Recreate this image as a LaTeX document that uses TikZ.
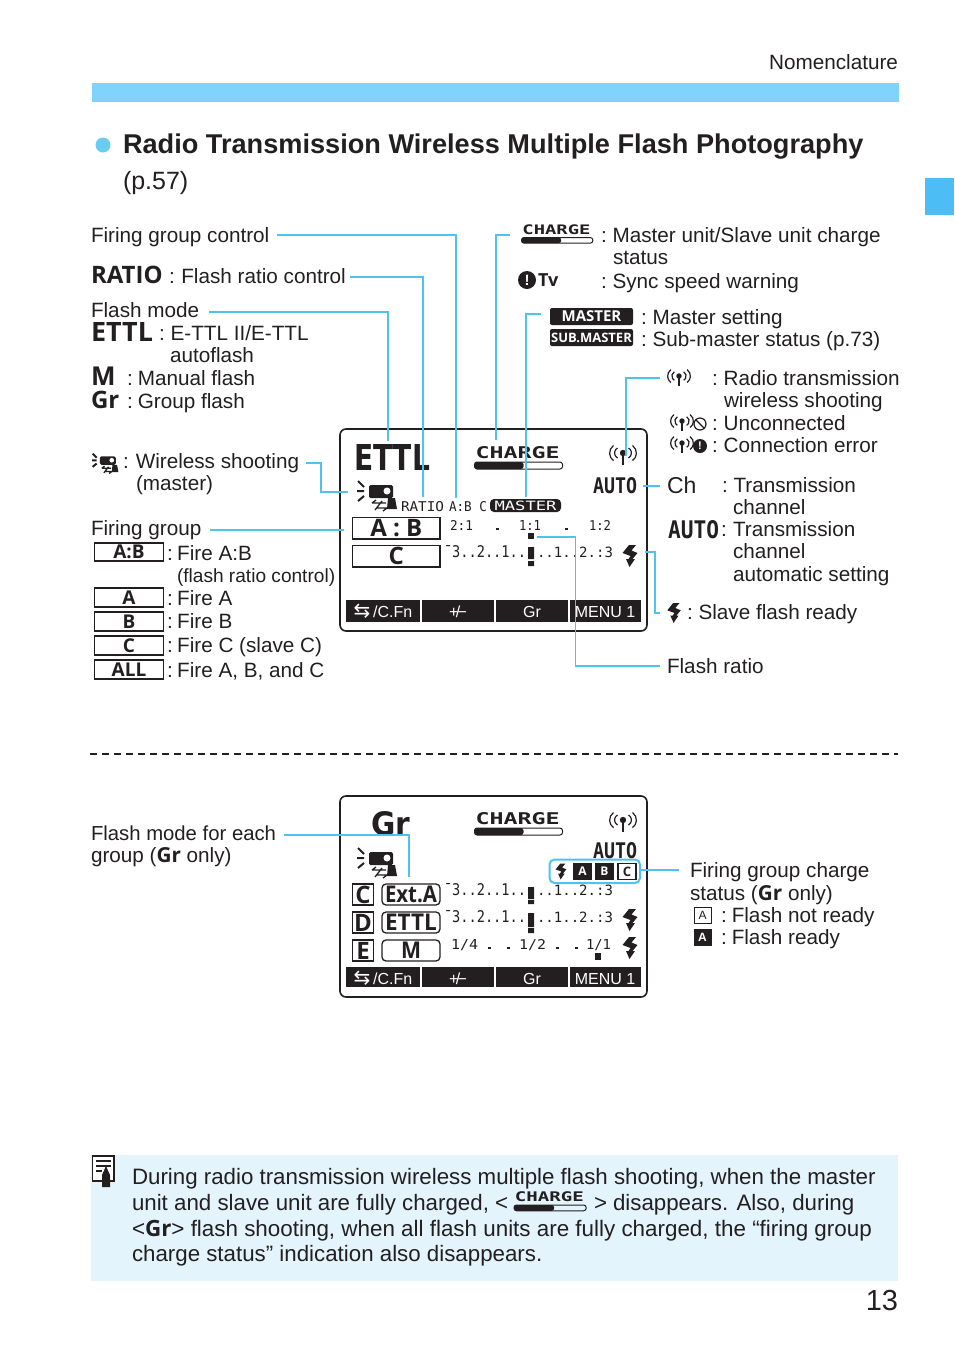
\documentclass[tikz,border=0pt]{standalone}
\usepackage{fontspec}
\usepackage{graphicx}
\setmainfont{Liberation Sans}
\newfontfamily\opens{Open Sans}
\newfontfamily\djv{DejaVu Sans}
\newfontfamily\djm{DejaVu Sans Mono}
\newcommand\sz[1]{\fontsize{#1}{#1}\selectfont}
\newcommand\hb{\opens\bfseries}
\newcommand\fitt[3]{\resizebox{#1pt}{#2pt}{#3}}
\newcommand\lb[5][]{\node[lbl,#1] (#2) at (#3,#4) {#5};}
\newcommand\cl{:\hspace{5.8pt}}
\newcommand\cf{:\hspace{4.4pt}}
\definecolor{cyanline}{HTML}{4FC3EE}
\definecolor{barblue}{HTML}{7FD3FC}
\definecolor{tabblue}{HTML}{4DBEF5}
\definecolor{notebg}{HTML}{E3F4FC}
\definecolor{ink}{HTML}{231F20}
\tikzset{
 lbl/.style={anchor=base west,inner sep=0pt,outer sep=0pt,text=ink,font=\sz{20.7}},
 conn/.style={draw=cyanline,line width=1.4pt,line join=miter},
 lcdframe/.style={draw=ink,line width=1.6pt,rounded corners=6pt},
 lcdbox/.style={draw=ink,line width=1.5pt},
 lcdpill/.style={draw=ink,line width=1.3pt,rounded corners=4pt},
 legendbox/.style={draw=ink,line width=1.5pt},
 softkey/.style={fill=ink,draw=none},
 softtxt/.style={anchor=base,inner sep=0pt,text=white,font=\sz{16}},
 chg/.pic={
  \node[anchor=base west,inner sep=0pt,text=ink,transform shape] at (1,-4) {\fitt{84}{12}{\djm\bfseries CHARGE}};
  \draw[ink,line width=1pt,rounded corners=2.5pt] (0,0) rectangle (88,7);
  \fill[ink,rounded corners=2.5pt] (0,0) rectangle (49,7);
 },
 radio/.pic={
  \fill[ink] (0,0) circle (3.2);
  \draw[ink,line width=1.6pt] (0,0) -- (0,12);
  \draw[ink,line width=1.2pt] (5.5,-5) arc (-60:60:5.8) (-5.5,-5) arc (240:120:5.8);
  \draw[ink,line width=1.2pt] (9.5,-7.5) arc (-55:55:9.2) (-9.5,-7.5) arc (235:125:9.2);
 },
 bolt/.pic={
  \fill[ink] (-1,-11)--(6,-11)--(1.5,-5.5)--(7.5,-3)--(2.5,3)--(5,3)--(-0.5,11)--(-4,3)--(-1.5,3)--(0.5,0)--(-7.5,-3)--cycle;
 },
 wless/.pic={
  \draw[ink,line width=2pt] (1,1) -- (7,7) (0,11) -- (7,11) (1,21) -- (7,16);
  \fill[ink,rounded corners=1.5pt] (12,5) rectangle (36,18);
  \fill[white] (30,11) circle (3.5);
  \fill[ink] (31,18)--(38,18)--(40,29)--(30,29)--cycle;
  \draw[ink,line width=1.3pt] (15,23)--(29,23) (19,28)--(30,28) (15,23)--(19,20) (30,28)--(26,31) (18,30)--(25,21);
 }
}
\begin{document}
\begin{tikzpicture}[x=1pt,y=-1pt]
\useasboundingbox (0,0) rectangle (954,1345);
% page furniture
\node[lbl,anchor=base east] (nomen) at (898,69) {Nomenclature};
\fill[barblue] (92,83) rectangle (899,102);
\fill[tabblue] (925,178) rectangle (954,215);
\fill[cyanline!85!white] (103,145) circle (7.5);
\lb[font=\sz{27.15}\bfseries]{title}{123}{153}{Radio Transmission Wireless Multiple Flash Photography}
\lb[font=\sz{25}]{titleb}{123}{189}{(p.57)}
% left legend
\lb{fgc}{91}{242}{Firing group control}
\lb[font=\sz{24}\hb]{ratiow}{91}{283}{RATIO}
\lb{ratiot}{169}{283}{:\hspace{6.6pt}Flash ratio control}
\lb{fm}{91}{317}{Flash mode}
\node[lbl] (ettlw) at (91,341) {\fitt{62}{19}{\hb ETTL}};
\lb{ettlt}{159}{340}{\cl E-TTL II/E-TTL}
\lb{ettlu}{170}{362}{autoflash}
\lb[font=\sz{26}\hb]{mw}{91}{385}{M}
\lb{mt}{127}{385}{:\hspace{5.1pt}Manual flash}
\lb[font=\sz{24}\hb]{grw}{91}{408}{Gr}
\lb{grt}{127}{408}{:\hspace{5.1pt}Group flash}
\pic[scale=.66] at (92,453) {wless};
\lb{wlt}{123}{468}{:\hspace{7pt}Wireless shooting}
\lb{wlu}{136}{490}{(master)}
\lb{fg}{91}{535}{Firing group}
\foreach \n/\ya/\yb/\t/\ly/\tx in {ab/543/561/A:B/560/{\cf Fire A:B},a/588/607/A/605/{\cf Fire A},b/612/631/B/628/{\cf Fire B},c/636/655/C/652/{\cf Fire C (slave C)},all/660/679/ALL/677/{\cf Fire A, B, and C}}{
 \draw[legendbox] (94.5,\ya) rectangle (163.5,\yb);
 \node[anchor=base,inner sep=0pt,text=ink,font=\sz{19}\hb] (lb\n) at (129,\yb-2.5) {\t};
 \lb{lt\n}{167}{\ly}{\tx}
}
\lb[font=\sz{19.1}]{abu}{177}{582}{(flash ratio control)}
% top-right legend
\pic[scale=.81] at (521.5,237.5) {chg};
\lb{chgt}{601}{242}{\cl Master unit/Slave unit charge}
\lb{chgu}{613}{264}{status}
\fill[ink] (527,280) circle (9);
\node[anchor=center,inner sep=0pt,text=white,font=\sz{15}\bfseries] (excl) at (527,280) {!};
\lb[font=\sz{18}\hb]{tv}{538}{286}{Tv}
\lb{tvt}{601}{288}{\cl Sync speed warning}
\node[fill=ink,rounded corners=2pt,minimum width=83pt,minimum height=17pt,inner sep=0pt,text=white,font=\sz{15}\hb] (mst) at (591.5,316.5) {MASTER};
\node[fill=ink,rounded corners=2pt,minimum width=83pt,minimum height=17pt,inner sep=0pt,text=white,font=\sz{13}\hb] (sub) at (591.5,337.5) {SUB.MASTER};
\lb{mstt}{641}{324}{\cl Master setting}
\lb{subt}{641}{346}{\cl Sub-master status (p.73)}
\pic[scale=.85] at (679,376) {radio};
\lb{rt}{712}{385}{\cl Radio transmission}
\lb{ru}{724}{407}{wireless shooting}
\pic[scale=.85] at (682,421) {radio};
\draw[ink,line width=1.2pt] (700,424) circle (6) (696,420) -- (704,428);
\lb{unc}{712}{430}{\cl Unconnected}
\pic[scale=.85] at (682,443) {radio};
\fill[ink] (700,446) circle (7);
\node[anchor=center,inner sep=0pt,text=white,font=\sz{11}\bfseries] (excl2) at (700,446) {!};
\lb{cer}{712}{452}{\cl Connection error}
\lb[font=\sz{23}]{chw}{667}{493}{Ch}
\lb{cht}{722}{492}{\cl Transmission}
\lb{chu}{733}{514}{channel}
\node[lbl] (autow) at (668,538) {\fitt{51}{18}{\djm\bfseries AUTO}};
\lb{autoc}{721}{536}{:}
\lb{autot}{733}{536}{Transmission}
\lb{autou}{733}{558}{channel}
\lb{autov}{733}{581}{automatic setting}
\pic[scale=.9] at (674,613) {bolt};
\lb{sfr}{687}{619}{\cl Slave flash ready}
\lb{fr}{667}{673}{Flash ratio}
% LCD 1
\node[lcdframe,minimum width=307pt,minimum height=202pt,inner sep=0pt] (lcdA) at (493.5,530) {};
\node[lbl] (aettl) at (354,470) {\fitt{76}{26}{\djv\bfseries ETTL}};
\pic at (474.5,462) {chg};
\pic at (623,453) {radio};
\node[lbl] (aauto) at (593,493) {\fitt{44}{16}{\djm\bfseries AUTO}};
\pic at (357,480) {wless};
\node[lbl] (aratio) at (401,511) {\fitt{43}{10}{\djm RATIO}};
\node[lbl] (aabc) at (449,511) {\fitt{38}{10}{\djm A:B C}};
\node[fill=ink,rounded corners=4pt,minimum width=71pt,minimum height=13pt,inner sep=0pt] (amst) at (525.5,505.5) {\fitt{62}{9.5}{\djm\color{white}MASTER}};
\draw[lcdbox] (352.5,517.5) rectangle (440,539) node[midway,text=ink,font=\sz{24}\hb] (aab) {A : B};
\draw[lcdbox] (352.5,545.5) rectangle (440,567) node[midway,text=ink,font=\sz{24}\hb] (ac) {C};
\node[lbl] (r1) at (450,530) {\fitt{23}{10}{\djm 2:1}};
\node[lbl] (rd1) at (496,530) {\fitt{3}{2.5}{\rule{3pt}{3pt}}};
\node[lbl] (r2) at (519,530) {\fitt{22}{10}{\djm 1:1}};
\node[lbl] (rd2) at (565,530) {\fitt{3}{2.5}{\rule{3pt}{3pt}}};
\node[lbl] (r3) at (589,530) {\fitt{22}{10}{\djm 1:2}};
\fill[ink] (528,533) rectangle (534,539);
\node[lbl] (sl) at (444,557) {\fitt{82}{12}{\djm ¯3..2..1..}};
\node[lbl] (sr) at (537,557) {\fitt{76}{10.5}{\djm ..1..2.:3}};
\fill[ink] (528,547) rectangle (534,559) (528,561) rectangle (534,566);
\pic at (630,556) {bolt};
\foreach \xa/\xb in {346/420,422/494,496/568,570/641}{\fill[softkey] (\xa,600) rectangle (\xb,622);}
\node[softtxt] (ka) at (383,617) {{\djv\sz{20}⇆}\,/C.Fn};
\node[softtxt] (kb) at (458,617) {+\!/\!−};
\node[softtxt] (kc) at (532,617) {Gr};
\node[softtxt] (kd) at (605,617) {MENU 1};
% LCD 2
\node[lcdframe,minimum width=307pt,minimum height=201pt,inner sep=0pt] (lcdB) at (493.5,896.5) {};
\node[lbl] (bgr) at (371,835) {\fitt{39}{24}{\djv\bfseries Gr}};
\pic at (474.5,828) {chg};
\pic at (623,820) {radio};
\node[lbl] (bauto) at (593,858) {\fitt{44}{16}{\djm\bfseries AUTO}};
\pic at (357,847) {wless};
\draw[cyanline,fill=white,line width=2pt,rounded corners=5pt] (549.5,859.5) rectangle (640,883);
\pic[scale=.72] at (561,871.5) {bolt};
\node[fill=ink,minimum width=19pt,minimum height=17pt,inner sep=0pt,text=white,font=\sz{12}\hb] (ba) at (582.5,871.5) {A};
\node[fill=ink,minimum width=19pt,minimum height=17pt,inner sep=0pt,text=white,font=\sz{12}\hb] (bb) at (604.5,871.5) {B};
\node[draw=ink,line width=1.5pt,fill=white,minimum width=18pt,minimum height=16pt,inner sep=0pt,text=ink,font=\sz{13}\hb] (bc) at (627,871.5) {C};
\foreach \n/\ya/\yb/\l/\m/\w in {p/884/905/C/Ext.A/52,q/912/933/D/ETTL/52,s/940/961/E/M/20}{
 \draw[lcdbox] (352.5,\ya) rectangle (373.5,\yb);
 \node[anchor=center,inner sep=0pt,text=ink,font=\sz{24}\hb] (bl\n) at (363,\ya/2+\yb/2) {\l};
 \draw[lcdpill] (382,\ya) rectangle (440,\yb);
 \node[anchor=center,inner sep=0pt,text=ink,font=\sz{24}\hb] (bm\n) at (411,\ya/2+\yb/2) {\fitt{\w}{16.5}{\m}};
}
\node[lbl] (slb) at (444,895) {\fitt{82}{12}{\djm ¯3..2..1..}};
\node[lbl] (srb) at (537,895) {\fitt{76}{10.5}{\djm ..1..2.:3}};
\node[lbl] (slc) at (444,922) {\fitt{82}{12}{\djm ¯3..2..1..}};
\node[lbl] (src) at (537,922) {\fitt{76}{10.5}{\djm ..1..2.:3}};
\fill[ink] (528,887) rectangle (534,899) (528,900) rectangle (534,904);
\fill[ink] (528,913) rectangle (534,927) (528,928) rectangle (534,933);
\node[lbl] (t1) at (451,949) {\fitt{27}{10}{\djm 1/4}};
\node[lbl] (t2) at (488,949) {\fitt{22}{2.5}{\rule{3pt}{3pt}\hspace{14pt}\rule{3pt}{3pt}}};
\node[lbl] (t3) at (519,949) {\fitt{27}{10}{\djm 1/2}};
\node[lbl] (t4) at (556,949) {\fitt{22}{2.5}{\rule{3pt}{3pt}\hspace{14pt}\rule{3pt}{3pt}}};
\node[lbl] (t5) at (586,949) {\fitt{25}{10}{\djm 1/1}};
\fill[ink] (595,953) rectangle (601,960);
\pic at (630,920) {bolt};
\pic at (630,948) {bolt};
\foreach \xa/\xb in {346/420,422/494,496/568,570/641}{\fill[softkey] (\xa,967) rectangle (\xb,987);}
\node[softtxt] (la) at (383,984) {{\djv\sz{20}⇆}\,/C.Fn};
\node[softtxt] (lb) at (458,984) {+\!/\!−};
\node[softtxt] (lc) at (532,984) {Gr};
\node[softtxt] (ld) at (605,984) {MENU 1};
% lower legends
\lb[font=\sz{20.3}]{fme}{91}{840}{Flash mode for each}
\node[lbl] (fmf) at (91,862) {group ({\hb Gr} only)};
\lb{fgs}{690}{877}{Firing group charge}
\node[lbl] (fgt) at (690,900) {status ({\hb Gr} only)};
\node[draw=ink,line width=.9pt,minimum width=17pt,minimum height=16pt,inner sep=0pt,text=ink,font=\sz{12}] (na) at (702.5,915) {A};
\lb{fnr}{721}{922}{:\hspace{5pt}Flash not ready}
\node[fill=ink,minimum width=18pt,minimum height=17pt,inner sep=0pt,text=white,font=\sz{12}\bfseries] (nb) at (702.5,937) {A};
\lb{frd}{721}{944}{:\hspace{5pt}Flash ready}
% connectors
\coordinate (c1a) at (277,235); \coordinate (c1b) at (456,498);
\draw[conn] (c1a) -| (c1b);
\coordinate (c2a) at (350,277); \coordinate (c2b) at (423,497);
\draw[conn,line width=1.2pt] (c2a) -| (c2b);
\coordinate (c3a) at (209,312); \coordinate (c3b) at (388,441);
\draw[conn] (c3a) -| (c3b);
\coordinate (c4a) at (510,235); \coordinate (c4b) at (496,440);
\draw[conn] (c4a) -| (c4b);
\coordinate (c5a) at (541,314); \coordinate (c5b) at (526,497);
\draw[conn] (c5a) -| (c5b);
\coordinate (c6a) at (660,378); \coordinate (c6b) at (626,456);
\draw[conn] (c6a) -| (c6b);
\coordinate (c7a) at (306,463); \coordinate (c7m) at (321,492); \coordinate (c7b) at (348,492);
\draw[conn] (c7a) -| (c7m) -- (c7b);
\coordinate (c8a) at (210,530); \coordinate (c8b) at (344,530);
\draw[conn] (c8a) -- (c8b);
\coordinate (c9a) at (643,486); \coordinate (c9b) at (660,486);
\draw[conn] (c9a) -- (c9b);
\coordinate (c10a) at (645,552); \coordinate (c10m) at (655,613); \coordinate (c10b) at (660,613);
\draw[conn] (c10a) -| (c10m) -- (c10b);
\coordinate (c11a) at (537,537); \coordinate (c11m) at (575.5,666); \coordinate (c11b) at (660,666);
\draw[conn] (c11a) -| (c11m) -- (c11b);
\coordinate (c12a) at (284,835); \coordinate (c12b) at (409,877);
\draw[conn] (c12a) -| (c12b);
\coordinate (c13a) at (640,870); \coordinate (c13b) at (679,870);
\draw[conn] (c13a) -- (c13b);
% dashed rule
\draw[ink,line width=1.2pt,dash pattern=on 7pt off 5pt] (90,754) -- (898,754);
% note
\fill[notebg] (91,1155) rectangle (898,1281);
\draw[ink,line width=1.3pt,fill=white] (92.5,1156) rectangle (114,1181);
\draw[ink,line width=1.3pt] (96,1161) -- (111,1161) (96,1166) -- (111,1166) (96,1171) -- (102,1171);
\fill[ink] (102,1175)--(106,1166)--(110,1175)--(110,1187)--(102,1187)--cycle;
\lb[font=\sz{22.3}]{n1}{132}{1184}{During radio transmission wireless multiple flash shooting, when the master}
\lb[font=\sz{22.3}]{n2}{132}{1210}{unit and slave unit are fully charged, <}
\pic[scale=.82] at (514,1205) {chg};
\lb[font=\sz{22.3}]{n2b}{594}{1210}{>}
\lb[font=\sz{22.3}]{n2c}{613}{1210}{disappears. Also, during}
\node[lbl,font=\sz{22.4}] (n3) at (132,1236) {<{\hb Gr}> flash shooting, when all flash units are fully charged, the “firing group};
\lb[font=\sz{22.3}]{n4}{132}{1261}{charge status” indication also disappears.}
\node[lbl,anchor=base east,font=\sz{29}] (pg) at (898,1310) {13};
\end{tikzpicture}
\end{document}
